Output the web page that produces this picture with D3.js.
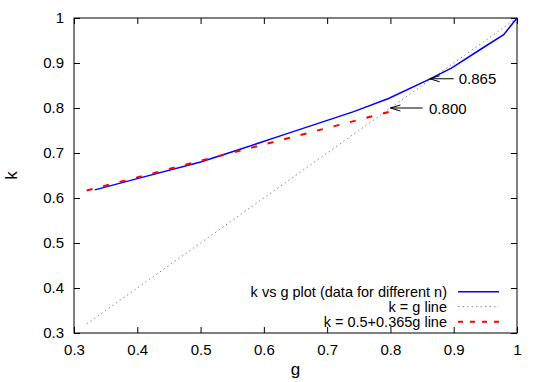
<!DOCTYPE html>
<html>
<head>
<meta charset="utf-8">
<script src="https://cdn.jsdelivr.net/npm/d3@7"></script>
<style>
  body { margin: 0; background: #fff; }
  text { font-family: "Liberation Sans", Arial, sans-serif; }
</style>
</head>
<body>
<div id="chart"></div>
<script>
// data
var gVals = [0.333, 0.4, 0.5, 0.5625, 0.626, 0.742, 0.797, 0.862, 0.897, 0.942, 0.979, 1];
var kVals = [0.618, 0.643, 0.680, 0.7085, 0.738, 0.792, 0.821, 0.864, 0.889, 0.930, 0.963, 1];

var diagG = [0.32, 1];
var diagK = [0.32, 1];

var fitG = [0.32, 0.8];
var fitK = [0.6168, 0.792];

var ticks = [0.3, 0.4, 0.5, 0.6, 0.7, 0.8, 0.9, 1];
var tickLabels = ["0.3", "0.4", "0.5", "0.6", "0.7", "0.8", "0.9", "1"];

var legendNames = ["k vs g plot (data for different n)", "k = g line", "k = 0.5+0.365g line"];

var arrowLabels = ["0.865", "0.800"];
var arrowFromG = [0.9, 0.851];
var arrowToG = [0.862, 0.8];
var arrowK = [0.865, 0.8];
var labelG = [0.908, 0.861];

// set the dimensions and margins of the graph
var margin = {top: 18, right: 28, bottom: 49, left: 74},
    width = 545 - margin.left - margin.right,
    height = 382 - margin.top - margin.bottom;

var svg = d3.select("#chart")
  .append("svg")
  .attr("width", 545)
  .attr("height", 382)
  .append("g")
  .attr("transform", "translate(" + margin.left + "," + margin.top + ")");

var x = d3.scaleLinear().domain([0.3, 1]).range([0, width]);
var y = d3.scaleLinear().domain([0.3, 1]).range([height, 0]);

function fmt(d) { return tickLabels[ticks.indexOf(d)]; }

// axes, ticks pointing inward, mirrored on top/right
var xAx = svg.append("g")
  .attr("transform", "translate(0," + height + ")")
  .call(d3.axisBottom(x).tickValues(ticks).tickFormat(fmt).tickSizeInner(-6).tickSizeOuter(0).tickPadding(11));
var yAx = svg.append("g")
  .call(d3.axisLeft(y).tickValues(ticks).tickFormat(fmt).tickSizeInner(-6).tickSizeOuter(0).tickPadding(10));
var xTop = svg.append("g")
  .call(d3.axisTop(x).tickValues(ticks).tickFormat("").tickSizeInner(-6).tickSizeOuter(0));
var yRight = svg.append("g")
  .attr("transform", "translate(" + width + ",0)")
  .call(d3.axisRight(y).tickValues(ticks).tickFormat("").tickSizeInner(-6).tickSizeOuter(0));

[xAx, yAx, xTop, yRight].forEach(function(a) {
  a.select(".domain").remove();
  a.selectAll("line").attr("stroke", "#000");
  a.selectAll("text").attr("fill", "#000").style("font-size", "15px");
});

svg.append("rect")
  .attr("width", width)
  .attr("height", height)
  .attr("fill", "none")
  .attr("stroke", "#000")
  .attr("stroke-width", 1);

// axis titles
svg.append("text")
  .attr("x", width / 2)
  .attr("y", height + 42)
  .attr("text-anchor", "middle")
  .style("font-size", "17px")
  .text("g");
svg.append("text")
  .attr("transform", "translate(" + (-57) + "," + (height / 2) + ") rotate(-90)")
  .attr("text-anchor", "middle")
  .style("font-size", "17px")
  .text("k");

var line = d3.line()
  .x(function(d) { return x(d[0]); })
  .y(function(d) { return y(d[1]); });

// k = g dotted line
svg.append("path")
  .datum(d3.zip(diagG, diagK))
  .attr("fill", "none")
  .attr("stroke", "#888")
  .attr("stroke-width", 1)
  .attr("stroke-dasharray", "1.5,3")
  .attr("d", line);

// data curve
svg.append("path")
  .datum(d3.zip(gVals, kVals))
  .attr("fill", "none")
  .attr("stroke", "#0000ff")
  .attr("stroke-width", 1.5)
  .attr("d", line);

// fitted line
svg.append("path")
  .datum(d3.zip(fitG, fitK))
  .attr("fill", "none")
  .attr("stroke", "#ff0000")
  .attr("stroke-width", 2)
  .attr("stroke-dasharray", "6,11")
  .attr("d", line);

// arrows with labels
arrowLabels.forEach(function(lbl, i) {
  var x0 = x(arrowFromG[i]), x1 = x(arrowToG[i]), yy = y(arrowK[i]);
  svg.append("line")
    .attr("x1", x0).attr("y1", yy)
    .attr("x2", x1).attr("y2", yy)
    .attr("stroke", "#000").attr("stroke-width", 1);
  svg.append("path")
    .attr("d", "M" + (x1 + 10) + "," + (yy - 3) + "L" + x1 + "," + yy + "L" + (x1 + 10) + "," + (yy + 3))
    .attr("fill", "none")
    .attr("stroke", "#000")
    .attr("stroke-width", 1);
  svg.append("text")
    .attr("x", x(labelG[i]))
    .attr("y", yy + 5.5)
    .style("font-size", "15px")
    .text(lbl);
});

// legend
var legStyles = [
  {stroke: "#0000ff", width: 1.5, dash: null},
  {stroke: "#888", width: 1, dash: "1.5,3"},
  {stroke: "#ff0000", width: 2, dash: "5,7"}
];
var legend = svg.append("g");
legendNames.forEach(function(name, i) {
  var cy = 273.7 + i * 15;
  legend.append("text")
    .attr("x", 373)
    .attr("y", cy + 5)
    .attr("text-anchor", "end")
    .style("font-size", "14.5px")
    .text(name);
  legend.append("line")
    .attr("x1", 384).attr("x2", 425)
    .attr("y1", cy).attr("y2", cy)
    .attr("stroke", legStyles[i].stroke)
    .attr("stroke-width", legStyles[i].width)
    .attr("stroke-dasharray", legStyles[i].dash);
});
</script>
</body>
</html>
